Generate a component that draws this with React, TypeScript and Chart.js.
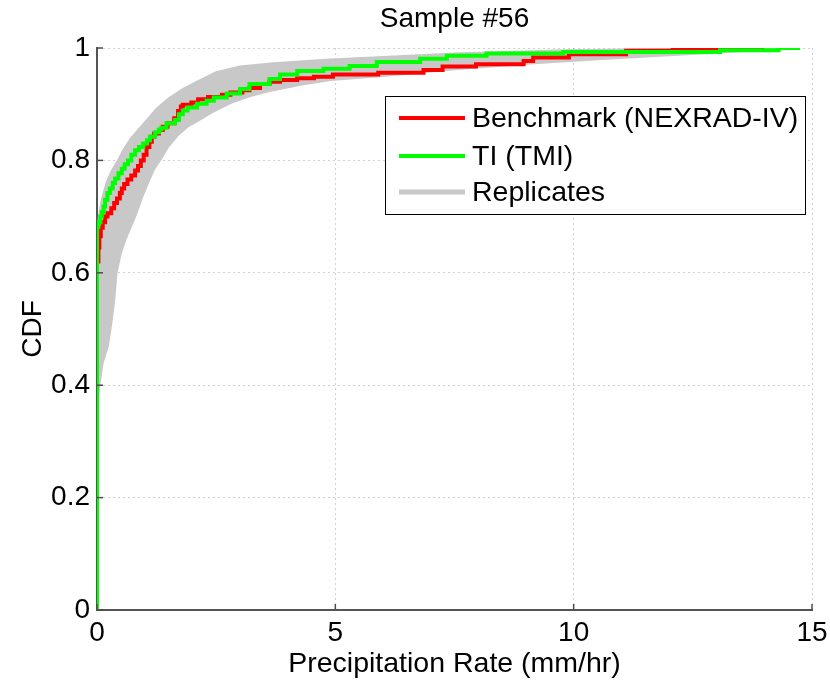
import React, { useEffect, useRef } from 'react';
import { Chart, registerables } from 'chart.js';

Chart.register(...registerables);

const TITLE = 'Sample #56';
const X_TITLE = 'Precipitation Rate (mm/hr)';
const Y_TITLE = 'CDF';
const X_TICKS = [0, 5, 10, 15];
const Y_TICKS = [0, 0.2, 0.4, 0.6, 0.8, 1];
const SERIES_NAMES = ['Benchmark (NEXRAD-IV)', 'TI (TMI)', 'Replicates'];
const SERIES_COLORS = ['#ff0000', '#00ff00', '#c8c8c8'];

// Benchmark (NEXRAD-IV) empirical CDF: x = rate where level starts, y = CDF level
const benchX = [0, 0, 0.03, 0.05, 0.08, 0.12, 0.17, 0.22, 0.3, 0.36, 0.42, 0.48, 0.52, 0.57, 0.64, 0.72, 0.8, 0.86, 0.92, 0.98, 1.04, 1.1, 1.15, 1.2, 1.3, 1.38, 1.48, 1.62, 1.7, 1.76, 1.8, 1.98, 2.12, 2.33, 2.62, 2.8, 3.05, 3.2, 3.42, 3.62, 3.84, 4.2, 4.55, 4.95, 5.9, 6.85, 7.25, 7.95, 8.95, 9.15, 9.9, 11.1, 12.08, 13.73, 14.0];
const benchY = [0, 0.58, 0.62, 0.645, 0.665, 0.68, 0.69, 0.7, 0.706, 0.715, 0.724, 0.732, 0.742, 0.75, 0.758, 0.766, 0.773, 0.782, 0.79, 0.8, 0.81, 0.824, 0.833, 0.842, 0.848, 0.854, 0.86, 0.866, 0.875, 0.888, 0.896, 0.899, 0.903, 0.909, 0.913, 0.917, 0.921, 0.925, 0.929, 0.936, 0.94, 0.943, 0.946, 0.949, 0.953, 0.956, 0.961, 0.967, 0.971, 0.977, 0.983, 0.989, 0.995, 0.999, 1.0];

// TI (TMI) empirical CDF
const tiX = [0, 0, 0.03, 0.07, 0.1, 0.14, 0.17, 0.22, 0.27, 0.33, 0.38, 0.45, 0.52, 0.58, 0.65, 0.72, 0.8, 0.88, 0.97, 1.05, 1.11, 1.22, 1.3, 1.35, 1.46, 1.64, 1.72, 1.8, 1.9, 2.1, 2.3, 2.45, 2.72, 3.0, 3.2, 3.62, 3.84, 4.2, 4.75, 5.3, 5.87, 6.78, 7.34, 8.17, 9.78, 13.07, 14.3, 14.75];
const tiY = [0, 0.66, 0.682, 0.69, 0.7, 0.708, 0.718, 0.73, 0.742, 0.75, 0.76, 0.768, 0.777, 0.785, 0.793, 0.8, 0.81, 0.818, 0.824, 0.83, 0.836, 0.842, 0.85, 0.855, 0.858, 0.866, 0.872, 0.882, 0.889, 0.894, 0.901, 0.906, 0.912, 0.919, 0.927, 0.936, 0.945, 0.953, 0.959, 0.963, 0.968, 0.975, 0.981, 0.986, 0.99, 0.993, 0.996, 1.0];

// Replicates envelope: upper (left) edge and lower (right) edge of the grey band
const repUpperX = [0, 0, 0.04, 0.1, 0.2, 0.3, 0.44, 0.55, 0.7, 0.9, 1.05, 1.25, 1.5, 1.8, 2.1, 2.5, 3.0, 3.7, 4.8, 6.0, 7.5, 9.8, 12.5, 14.75];
const repUpperY = [0, 0.66, 0.7, 0.73, 0.76, 0.78, 0.8, 0.818, 0.838, 0.858, 0.872, 0.892, 0.91, 0.927, 0.94, 0.957, 0.967, 0.973, 0.979, 0.984, 0.99, 0.996, 0.999, 1.0];
const repLowerX = [0, 0, 0.05, 0.12, 0.23, 0.3, 0.36, 0.41, 0.5, 0.6, 0.7, 0.8, 0.95, 1.07, 1.2, 1.32, 1.5, 1.7, 1.9, 2.15, 2.4, 2.8, 3.2, 3.7, 4.3, 4.9, 6.0, 7.5, 9.0, 10.5, 12.0, 13.5, 14.75];
const repLowerY = [0, 0.36, 0.4, 0.44, 0.47, 0.51, 0.55, 0.6, 0.635, 0.66, 0.68, 0.7, 0.735, 0.76, 0.785, 0.8, 0.825, 0.845, 0.86, 0.872, 0.885, 0.902, 0.914, 0.925, 0.935, 0.943, 0.95, 0.962, 0.972, 0.98, 0.987, 0.994, 1.0];

const FONT = '"Liberation Sans", Arial, Helvetica, sans-serif';

const toPoints = (xs: number[], ys: number[]) => xs.map((x, i) => ({ x, y: ys[i] }));

const legendPlugin = {
  id: 'insideLegend',
  afterDraw(chart: any) {
    const { ctx, chartArea } = chart;
    const left = chartArea.right - 427;
    const top = chartArea.top + 48;
    const w = 420;
    const h = 118;
    ctx.save();
    ctx.fillStyle = '#ffffff';
    ctx.fillRect(left, top, w, h);
    ctx.strokeStyle = '#000000';
    ctx.lineWidth = 1;
    ctx.strokeRect(left + 0.5, top + 0.5, w, h);
    const rows = [22, 60, 96];
    ctx.font = `28.5px ${FONT}`;
    ctx.textBaseline = 'middle';
    ctx.textAlign = 'left';
    SERIES_NAMES.forEach((name, i) => {
      const y = top + rows[i];
      ctx.beginPath();
      ctx.strokeStyle = SERIES_COLORS[i];
      ctx.lineWidth = i === 2 ? 5 : 4;
      ctx.moveTo(left + 14, y);
      ctx.lineTo(left + 80, y);
      ctx.stroke();
      ctx.fillStyle = '#000000';
      ctx.fillText(name, left + 87, y + 1);
    });
    ctx.restore();
  },
};

const inwardTicksPlugin = {
  id: 'inwardTicks',
  afterDraw(chart: any) {
    const { ctx, chartArea, scales } = chart;
    ctx.save();
    ctx.strokeStyle = '#4d4d4d';
    ctx.lineWidth = 1.5;
    Y_TICKS.forEach((v) => {
      const py = scales.y.getPixelForValue(v);
      ctx.beginPath();
      ctx.moveTo(chartArea.left, py);
      ctx.lineTo(chartArea.left + 6, py);
      ctx.stroke();
    });
    X_TICKS.forEach((v) => {
      const px = scales.x.getPixelForValue(v);
      ctx.beginPath();
      ctx.moveTo(px, chartArea.bottom);
      ctx.lineTo(px, chartArea.bottom - 6);
      ctx.stroke();
    });
    ctx.restore();
  },
};

export default function App() {
  const canvasRef = useRef<HTMLCanvasElement | null>(null);

  useEffect(() => {
    if (!canvasRef.current) return;
    const band = [
      ...toPoints(repUpperX, repUpperY),
      ...toPoints(repLowerX, repLowerY).reverse(),
    ];
    const chart = new Chart(canvasRef.current, {
      type: 'line',
      data: {
        datasets: [
          {
            label: SERIES_NAMES[0],
            data: toPoints(benchX, benchY),
            borderColor: SERIES_COLORS[0],
            borderWidth: 4,
            stepped: 'after',
            pointRadius: 0,
            fill: false,
            order: 2,
          },
          {
            label: SERIES_NAMES[1],
            data: toPoints(tiX, tiY),
            borderColor: SERIES_COLORS[1],
            borderWidth: 4,
            stepped: 'after',
            pointRadius: 0,
            fill: false,
            order: 1,
          },
          {
            label: SERIES_NAMES[2],
            data: band,
            borderColor: SERIES_COLORS[2],
            backgroundColor: SERIES_COLORS[2],
            borderWidth: 2,
            pointRadius: 0,
            fill: 'shape',
            tension: 0,
            order: 3,
          },
        ],
      },
      options: {
        responsive: false,
        animation: false,
        events: [],
        layout: { padding: { left: 0, right: 18, top: 0, bottom: 0 } },
        plugins: {
          legend: { display: false },
          tooltip: { enabled: false },
          title: {
            display: true,
            text: TITLE,
            fullSize: false,
            color: '#000',
            font: { family: FONT, size: 28, weight: 'normal' },
            padding: { top: 2, bottom: 12.4 },
          },
        },
        scales: {
          x: {
            type: 'linear',
            min: 0,
            max: 15,
            afterFit: (s: any) => {
              s.height = 75;
              s.paddingRight = 10;
              s.paddingLeft = 0;
            },
            afterBuildTicks: (s: any) => { s.ticks = X_TICKS.map((v) => ({ value: v })); },
            ticks: {
              color: '#000',
              padding: 6,
              font: { family: FONT, size: 28 },
              maxRotation: 0,
              callback: (v: any) => String(v),
            },
            grid: { color: 'rgba(0,0,0,0.18)', drawTicks: false },
            border: { display: true, color: '#555', width: 2, dash: [2, 3] },
            title: {
              display: true,
              text: X_TITLE,
              color: '#000',
              font: { family: FONT, size: 28.5 },
              padding: { top: 0, bottom: 4 },
            },
          },
          y: {
            type: 'linear',
            min: 0,
            max: 1,
            afterFit: (s: any) => { s.width = 97; },
            afterBuildTicks: (s: any) => { s.ticks = Y_TICKS.map((v) => ({ value: v })); },
            ticks: {
              color: '#000',
              padding: 7,
              font: { family: FONT, size: 28 },
              callback: (v: any) => String(v),
            },
            grid: { color: 'rgba(0,0,0,0.18)', drawTicks: false },
            border: { display: true, color: '#555', width: 2, dash: [2, 3] },
            title: {
              display: true,
              text: Y_TITLE,
              color: '#000',
              font: { family: FONT, size: 28 },
              padding: { top: 16, bottom: 0 },
            },
          },
        },
      },
      plugins: [legendPlugin, inwardTicksPlugin],
    } as any);
    return () => chart.destroy();
  }, []);

  return (
    <div style={{ position: 'absolute', left: 0, top: 0, width: 830, height: 685, background: '#fff' }}>
      <canvas ref={canvasRef} width={830} height={685} />
    </div>
  );
}
